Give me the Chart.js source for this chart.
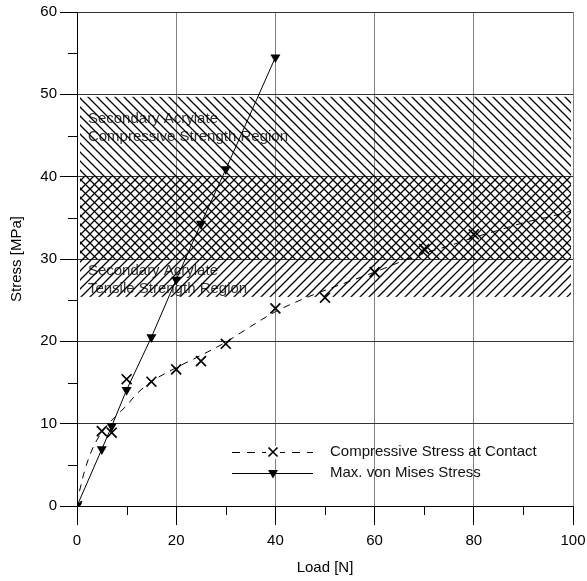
<!DOCTYPE html>
<html>
<head>
<meta charset="utf-8">
<script src="https://cdn.jsdelivr.net/npm/chart.js@4/dist/chart.umd.min.js"></script>
<style>
  html, body { margin: 0; padding: 0; background: #fff; }
  #wrap { width: 587px; height: 581px; position: relative; }
</style>
</head>
<body>
<div id="wrap"><canvas id="c" width="587" height="581"></canvas></div>
<script>
// ---- data ----
const loadCompressive = [0, 5, 7, 10, 15, 20, 25, 30, 40, 50, 60, 70, 80];
const compressiveStress = [0, 9.1, 8.9, 15.4, 15.1, 16.6, 17.6, 19.7, 24.0, 25.3, 28.4, 31.2, 33.0];

const loadFit = [0.5, 1.5, 3, 4, 5, 7.5, 10, 12, 15, 20, 25, 30, 35, 40, 45, 50, 55, 60, 65, 70, 75, 80, 85, 90, 95, 99.5];
const fitStress = [1.8, 4.2, 6.8, 8.0, 9.0, 10.7, 12.2, 13.6, 15.1, 16.8, 18.3, 19.9, 21.8, 23.6, 25.0, 26.2, 27.3, 28.4, 29.6, 30.7, 31.6, 32.6, 33.5, 34.4, 35.1, 35.8];

const loadMises = [0, 5, 7, 10, 15, 20, 25, 30, 40];
const misesStress = [0, 6.9, 9.7, 14.1, 20.5, 27.5, 34.3, 40.9, 54.5];

const xTicks = [0, 20, 40, 60, 80, 100];
const yTicks = [0, 10, 20, 30, 40, 50, 60];
const xMinorTicks = [10, 30, 50, 70, 90];
const yMinorTicks = [5, 15, 25, 35, 45, 55];

const compressiveRegion = [30, 49.7];   // MPa
const tensileRegion = [25.4, 40];       // MPa
const regionLoadRange = [0.6, 99.6];    // N

const seriesNames = ['Compressive Stress at Contact', 'Max. von Mises Stress'];
const regionLabels = {
  compressive: ['Secondary Acrylate', 'Compressive Strength Region'],
  tensile: ['Secondary Acrylate', 'Tensile Strength Region']
};

const FONT = '"Liberation Sans", Arial, Helvetica, sans-serif';

function pts(xs, ys) { return xs.map((x, i) => ({ x: x, y: ys[i] })); }

function makePattern(ctx, dir) {
  const p = 9;
  const c = document.createElement('canvas');
  c.width = p; c.height = p;
  const g = c.getContext('2d');
  g.strokeStyle = '#000';
  g.lineWidth = 1.3;
  g.beginPath();
  if (dir === 'back') {
    g.moveTo(-1, -1); g.lineTo(p + 1, p + 1);
    g.moveTo(-1, p - 1); g.lineTo(1, p + 1);
    g.moveTo(p - 1, -1); g.lineTo(p + 1, 1);
  } else {
    g.moveTo(-1, p + 1); g.lineTo(p + 1, -1);
    g.moveTo(-1, 1); g.lineTo(1, -1);
    g.moveTo(p - 1, p + 1); g.lineTo(p + 1, p - 1);
  }
  g.stroke();
  return ctx.createPattern(c, 'repeat');
}

const regionsPlugin = {
  id: 'regions',
  beforeDatasetsDraw(chart) {
    const { ctx, scales: { x, y } } = chart;
    const x0 = x.getPixelForValue(regionLoadRange[0]);
    const x1 = x.getPixelForValue(regionLoadRange[1]);
    ctx.save();
    // labels
    ctx.fillStyle = '#333';
    ctx.font = '15px ' + FONT;
    ctx.textBaseline = 'middle';
    ctx.textAlign = 'left';
    const lx = x.getPixelForValue(2.2);
    ctx.fillText(regionLabels.compressive[0], lx, y.getPixelForValue(47.0));
    ctx.fillText(regionLabels.compressive[1], lx, y.getPixelForValue(44.8));
    ctx.fillText(regionLabels.tensile[0], lx, y.getPixelForValue(28.5));
    ctx.fillText(regionLabels.tensile[1], lx, y.getPixelForValue(26.35));
    // hatching
    const back = makePattern(ctx, 'back');
    const fwd = makePattern(ctx, 'fwd');
    let yt = y.getPixelForValue(compressiveRegion[1]);
    let yb = y.getPixelForValue(compressiveRegion[0]);
    ctx.fillStyle = back;
    ctx.fillRect(x0, yt, x1 - x0, yb - yt);
    yt = y.getPixelForValue(tensileRegion[1]);
    yb = y.getPixelForValue(tensileRegion[0]);
    ctx.fillStyle = fwd;
    ctx.fillRect(x0, yt, x1 - x0, yb - yt);
    ctx.restore();
  }
};

const minorTicksPlugin = {
  id: 'minorTicks',
  afterDraw(chart) {
    const { ctx, scales: { x, y }, chartArea } = chart;
    ctx.save();
    ctx.strokeStyle = '#000';
    ctx.lineWidth = 1;
    ctx.beginPath();
    xMinorTicks.forEach(v => {
      const px = Math.round(x.getPixelForValue(v)) + 0.5;
      ctx.moveTo(px, chartArea.bottom);
      ctx.lineTo(px, chartArea.bottom + 9);
    });
    yMinorTicks.forEach(v => {
      const py = Math.round(y.getPixelForValue(v)) + 0.5;
      ctx.moveTo(chartArea.left - 9, py);
      ctx.lineTo(chartArea.left, py);
    });
    ctx.stroke();
    ctx.restore();
  }
};

const legendPlugin = {
  id: 'customLegend',
  afterDraw(chart) {
    const { ctx, chartArea } = chart;
    const sx0 = chartArea.right - 341, sx1 = chartArea.right - 260, mx = chartArea.right - 300;
    const tx = chartArea.right - 243;
    const rows = [chartArea.bottom - 54, chartArea.bottom - 33];
    ctx.save();
    ctx.strokeStyle = '#000';
    ctx.fillStyle = '#000';
    // row 1: dashed with x
    ctx.lineWidth = 1;
    ctx.setLineDash([8, 7]);
    ctx.beginPath();
    ctx.moveTo(sx0, rows[0] + 0.5); ctx.lineTo(sx1, rows[0] + 0.5);
    ctx.stroke();
    ctx.setLineDash([]);
    ctx.fillStyle = '#fff';
    ctx.fillRect(mx - 7, rows[0] - 6, 14, 13);
    ctx.lineWidth = 1.7;
    ctx.beginPath();
    ctx.moveTo(mx - 4.5, rows[0] - 4.5); ctx.lineTo(mx + 4.5, rows[0] + 4.5);
    ctx.moveTo(mx - 4.5, rows[0] + 4.5); ctx.lineTo(mx + 4.5, rows[0] - 4.5);
    ctx.stroke();
    // row 2: solid with triangle
    ctx.lineWidth = 1;
    ctx.beginPath();
    ctx.moveTo(sx0, rows[1] + 0.5); ctx.lineTo(sx1, rows[1] + 0.5);
    ctx.stroke();
    ctx.fillStyle = '#000';
    ctx.beginPath();
    ctx.moveTo(mx - 5, rows[1] - 3);
    ctx.lineTo(mx + 5, rows[1] - 3);
    ctx.lineTo(mx, rows[1] + 5.5);
    ctx.closePath();
    ctx.fill();
    // text
    ctx.fillStyle = '#111';
    ctx.font = '15px ' + FONT;
    ctx.textBaseline = 'middle';
    ctx.textAlign = 'left';
    ctx.fillText(seriesNames[0], tx, rows[0]);
    ctx.fillText(seriesNames[1], tx, rows[1]);
    ctx.restore();
  }
};

new Chart(document.getElementById('c'), {
  type: 'scatter',
  data: {
    datasets: [
      {
        label: 'fit',
        data: pts(loadFit, fitStress),
        showLine: true,
        borderColor: '#000',
        borderWidth: 1,
        borderDash: [7, 6],
        pointRadius: 0,
        cubicInterpolationMode: 'monotone',
        order: 3
      },
      {
        label: seriesNames[0],
        data: pts(loadCompressive, compressiveStress),
        showLine: false,
        pointStyle: 'crossRot',
        pointRadius: 7,
        borderColor: '#000',
        pointBorderWidth: 1.7,
        order: 2
      },
      {
        label: seriesNames[1],
        data: pts(loadMises, misesStress),
        showLine: true,
        borderColor: '#000',
        borderWidth: 1,
        backgroundColor: '#000',
        pointStyle: 'triangle',
        pointRotation: 180,
        pointRadius: 5.8,
        pointBorderWidth: 0,
        pointBackgroundColor: '#000',
        tension: 0,
        order: 1
      }
    ]
  },
  options: {
    responsive: false,
    animation: false,
    events: [],
    layout: { padding: { left: 0, right: 14, top: 12, bottom: 0 } },
    plugins: { legend: { display: false }, tooltip: { enabled: false } },
    scales: {
      x: {
        type: 'linear',
        min: 0, max: 100,
        afterBuildTicks: s => { s.ticks = xTicks.map(v => ({ value: v })); },
        afterFit: s => { s.height = 75; s.paddingRight = 0; s.paddingLeft = 0; },
        ticks: { color: '#000', font: { family: FONT, size: 15 }, padding: 7, maxRotation: 0 },
        grid: { color: '#808080', lineWidth: 1, tickColor: '#000', tickLength: 19 },
        border: { display: true, color: '#000', width: 1 },
        title: { display: true, text: 'Load [N]', color: '#000', font: { family: FONT, size: 15 }, padding: { top: 0, bottom: 4 } }
      },
      y: {
        type: 'linear',
        min: 0, max: 60,
        afterBuildTicks: s => { s.ticks = yTicks.map(v => ({ value: v })); },
        afterFit: s => { s.width = 77; s.paddingTop = 0; s.paddingBottom = 0; },
        ticks: { color: '#000', font: { family: FONT, size: 15 }, padding: 3 },
        grid: { color: '#333', lineWidth: 1, tickColor: '#000', tickLength: 17 },
        border: { display: true, color: '#000', width: 1 },
        title: { display: true, text: 'Stress [MPa]', color: '#000', font: { family: FONT, size: 15 }, padding: { top: 8, bottom: 0 } }
      }
    }
  },
  plugins: [regionsPlugin, minorTicksPlugin, legendPlugin]
});
</script>
</body>
</html>
